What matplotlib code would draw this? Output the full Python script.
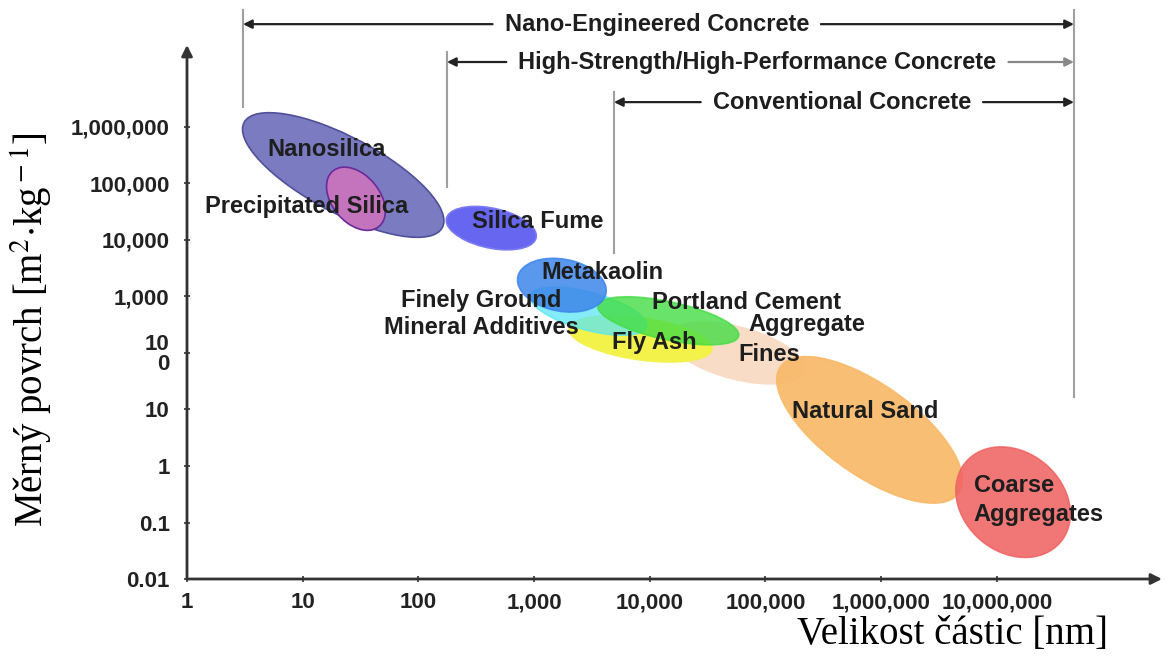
import numpy as np
import matplotlib.pyplot as plt
from matplotlib.patches import Ellipse

plt.rcParams['font.family'] = ['Liberation Sans', 'DejaVu Sans']
plt.rcParams['mathtext.fontset'] = 'stix'

# ellipses: centre in log10 units (particle size [nm], surface area [m2/kg]),
# extent in decades, tilt in degrees (data space)
materials = ['Nanosilica', 'Precipitated Silica', 'Silica Fume', 'Aggregate Fines',
             'Fly Ash', 'Finely Ground Mineral Additives', 'Portland Cement',
             'Metakaolin', 'Natural Sand', 'Coarse Aggregates']
size_log = [1.35, 1.46, 2.63, 4.75, 3.92, 3.47, 4.16, 3.24, 5.90, 7.14]
area_log = [5.15, 4.73, 4.21, 2.00, 2.25, 2.74, 2.57, 3.20, 0.64, -0.64]
span_w = [2.63, 1.14, 0.90, 1.39, 1.30, 1.18, 1.35, 0.98, 2.86, 1.97]
span_h = [0.99, 0.46, 0.62, 0.80, 0.71, 0.59, 0.62, 0.73, 1.06, 0.96]
tilt = [-54, -78, -44, -41, -22, -37, -29, -69, -63, -82]

fills = ['#7b7bc2', '#c474bc', '#6666f0', '#f9dcc6', '#f2f24a',
         '#5ae6f5', '#44dd44', '#3d86ea', '#f8bb6c', '#f06464']
edges = ['#50509a', '#6a2a9a', '#7a7af2', '#f9dcc6', '#f2f24a',
         '#5ae6f5', '#44dd44', '#3d86ea', '#f8bb6c', '#f06464']
alphas = [1, 1, 1, 1, 1, 0.75, 0.8, 0.85, 0.95, 0.88]

# labels on the ellipses
label_text = ['Nanosilica', 'Precipitated Silica', 'Silica Fume', 'Metakaolin',
              'Finely Ground\nMineral Additives', 'Portland Cement', 'Aggregate',
              'Fines', 'Fly Ash', 'Natural Sand']
label_x = [1.21, 1.03, 3.03, 3.59, 2.54, 4.84, 5.36, 5.03, 4.04, 5.86]
label_y = [5.61, 4.60, 4.32, 3.43, 2.69, 2.90, 2.50, 1.97, 2.18, 0.96]

# concrete types: range of particle size (log10 nm)
concrete = ['Nano-Engineered Concrete', 'High-Strength/High-Performance Concrete',
            'Conventional Concrete']
conc_from = [0.484, 2.247, 3.69]
conc_to = 7.666
conc_label_x = [4.06, 4.93, 5.66]
conc_row = [7.82, 7.15, 6.44]
conc_top = [8.07, 7.33, 6.62]
conc_bottom = [6.35, 4.94, 3.77]

xtick_labels = ['1', '10', '100', '1,000', '10,000', '100,000', '1,000,000', '10,000,000']
ytick_labels = ['0.01', '0.1', '1', '10', '10\n0', '1,000', '10,000', '100,000', '1,000,000']

fig = plt.figure(figsize=(11.66, 6.61), dpi=100)
ax = fig.add_axes([0.16038, 0.12405, 0.83619, 0.80787])
ax.set_xlim(0, 8.427)
ax.set_ylim(-2, 7.451)
for s in ax.spines.values():
    s.set_visible(False)

for i in range(len(materials)):
    e = Ellipse((size_log[i], area_log[i]), span_w[i], span_h[i], angle=tilt[i],
                facecolor=fills[i], edgecolor=edges[i], lw=1.2, alpha=alphas[i])
    ax.add_patch(e)

txt = dict(fontsize=17, fontweight='bold', color='#1e1e1e', zorder=5)
for t, x, y in zip(label_text, label_x, label_y):
    ax.text(x, y, t, ha='center', va='center', linespacing=1.25, **txt)
ax.text(6.80, -0.60, 'Coarse\nAggregates', ha='left', va='center', linespacing=1.3, **txt)

# axes with arrows
arr = dict(arrowstyle='-|>', lw=2, color='#333333', mutation_scale=16, shrinkA=0, shrinkB=0)
ax.annotate('', xy=(8.427, -2), xytext=(0, -2), arrowprops=arr, annotation_clip=False)
ax.annotate('', xy=(0, 7.451), xytext=(0, -2), arrowprops=arr, annotation_clip=False)

ax.set_xticks(range(8), xtick_labels, fontweight='bold', fontsize=16, color='#222222')
ax.set_yticks(range(-2, 7), ytick_labels, fontweight='bold', fontsize=16, color='#222222')
for lbl in ax.get_yticklabels():
    lbl.set_linespacing(0.9)
ax.tick_params(direction='inout', length=5, width=1.2, color='#333333')
ax.tick_params(axis='x', pad=7)
ax.tick_params(axis='y', pad=10)

ax.set_ylabel(r'Měrný povrch [m$^2$$\cdot$kg$^{\rm -1}$]', family='Liberation Serif', fontsize=28)
ax.yaxis.set_label_coords(-0.135, 0.466)
ax.set_xlabel('Velikost částic [nm]', family='Liberation Serif', fontsize=28)
ax.xaxis.set_label_coords(0.785, -0.07)

# concrete ranges at the top
line_kw = dict(color='#a0a0a0', lw=1.5, clip_on=False)
ax.plot([conc_to, conc_to], [1.22, conc_top[0]], **line_kw)
titles = []
for i in range(3):
    ax.plot([conc_from[i], conc_from[i]], [conc_bottom[i], conc_top[i]], **line_kw)
    titles.append(ax.text(conc_label_x[i], conc_row[i], concrete[i], ha='center',
                          va='center', clip_on=False, **txt))

fig.canvas.draw()
inv = ax.transData.inverted()
gap = 12
for i, t in enumerate(titles):
    bb = t.get_window_extent()
    x0 = inv.transform((bb.x0 - gap, 0))[0]
    x1 = inv.transform((bb.x1 + gap, 0))[0]
    head = dict(arrowstyle='-|>', lw=1.6, color='#222222', mutation_scale=13,
                shrinkA=0, shrinkB=0)
    ax.annotate('', xy=(conc_from[i], conc_row[i]), xytext=(x0, conc_row[i]),
                arrowprops=head, annotation_clip=False)
    right = dict(head, color='#888888') if i == 1 else head
    ax.annotate('', xy=(conc_to, conc_row[i]), xytext=(x1, conc_row[i]),
                arrowprops=right, annotation_clip=False)

fig.savefig('out.png', dpi=100)
